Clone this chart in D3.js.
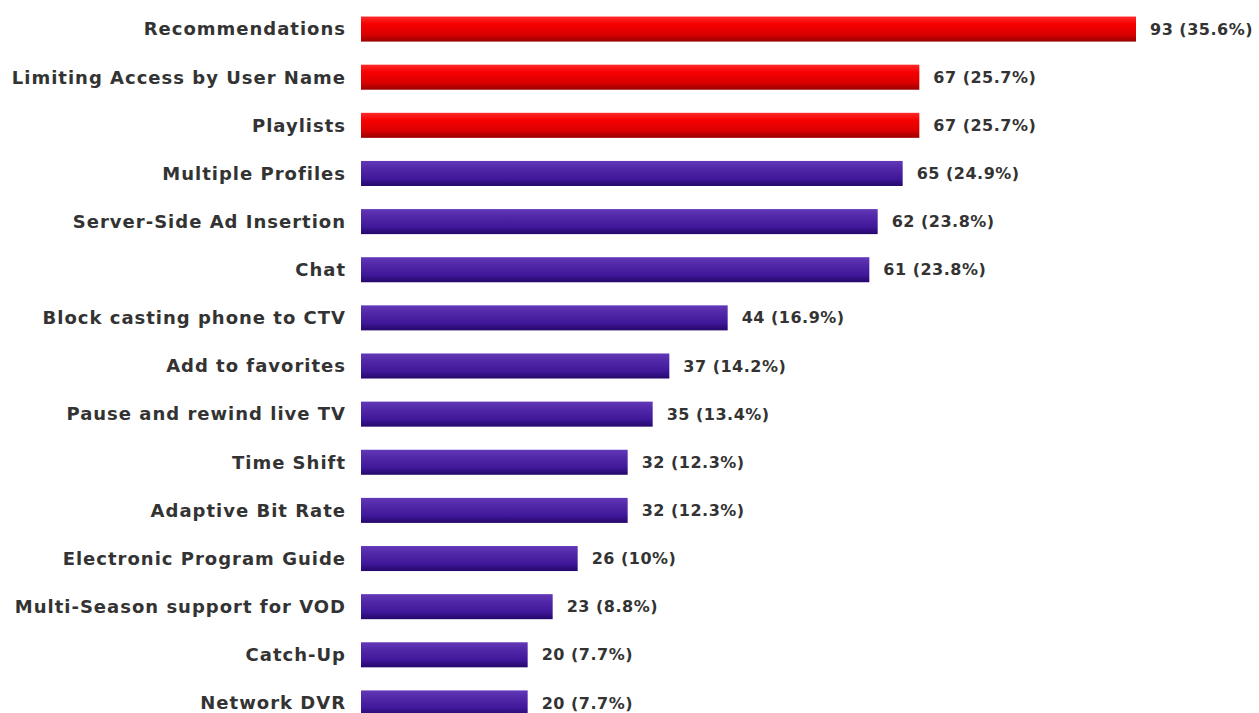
<!DOCTYPE html>
<html>
<head>
<meta charset="utf-8">
<script src="https://cdn.jsdelivr.net/npm/d3@7"></script>
<style>
  body { margin: 0; background: #fff; }
  svg text { font-family: "DejaVu Sans", sans-serif; font-weight: 700; fill: #333; }
</style>
</head>
<body>
<svg id="chart" width="1259" height="713"></svg>
<script>
// features and their counts, share in %
var features = ["Recommendations", "Limiting Access by User Name", "Playlists", "Multiple Profiles",
  "Server-Side Ad Insertion", "Chat", "Block casting phone to CTV", "Add to favorites",
  "Pause and rewind live TV", "Time Shift", "Adaptive Bit Rate", "Electronic Program Guide",
  "Multi-Season support for VOD", "Catch-Up", "Network DVR"];
var counts = [93, 67, 67, 65, 62, 61, 44, 37, 35, 32, 32, 26, 23, 20, 20];
var shares = ["35.6%", "25.7%", "25.7%", "24.9%", "23.8%", "23.8%", "16.9%", "14.2%",
  "13.4%", "12.3%", "12.3%", "10%", "8.8%", "7.7%", "7.7%"];
var highlighted = 3; // first three bars are red

const svg = d3.select("#chart");

var x = d3.scaleLinear().domain([0, 93]).range([361, 1136]);
var y = d3.scaleBand().domain(features).range([5, 727]).paddingInner(0.48).paddingOuter(0.24);

var defs = svg.append("defs");
function grad(id, stops) {
  var g = defs.append("linearGradient").attr("id", id)
    .attr("x1", 0).attr("y1", 0).attr("x2", 0).attr("y2", 1);
  stops.forEach(function(s) {
    g.append("stop").attr("offset", s[0]).attr("stop-color", s[1]);
  });
}
grad("redGrad", [[0, "#ff2a2a"], [0.3, "#f60000"], [0.7, "#dc0000"], [1, "#9a0000"]]);
grad("purpleGrad", [[0, "#6238b8"], [0.3, "#5128a8"], [0.7, "#40189a"], [1, "#24086a"]]);

var rows = svg.selectAll("g.row")
  .data(features)
  .enter().append("g")
  .attr("class", "row");

rows.append("rect")
  .attr("x", x(0))
  .attr("y", function(d) { return y(d); })
  .attr("width", function(d, i) { return x(counts[i]) - x(0); })
  .attr("height", y.bandwidth())
  .attr("fill", function(d, i) { return i < highlighted ? "url(#redGrad)" : "url(#purpleGrad)"; });

rows.append("text")
  .attr("x", 346)
  .attr("y", function(d) { return y(d) + y.bandwidth() / 2; })
  .attr("dy", "0.35em")
  .attr("text-anchor", "end")
  .style("font-size", "18px")
  .style("letter-spacing", "1px")
  .text(function(d) { return d; });

rows.append("text")
  .attr("x", function(d, i) { return x(counts[i]) + 14; })
  .attr("y", function(d) { return y(d) + y.bandwidth() / 2; })
  .attr("dy", "0.35em")
  .style("font-size", "16px")
  .style("letter-spacing", "0.5px")
  .text(function(d, i) { return counts[i] + " (" + shares[i] + ")"; });
</script>
</body>
</html>
